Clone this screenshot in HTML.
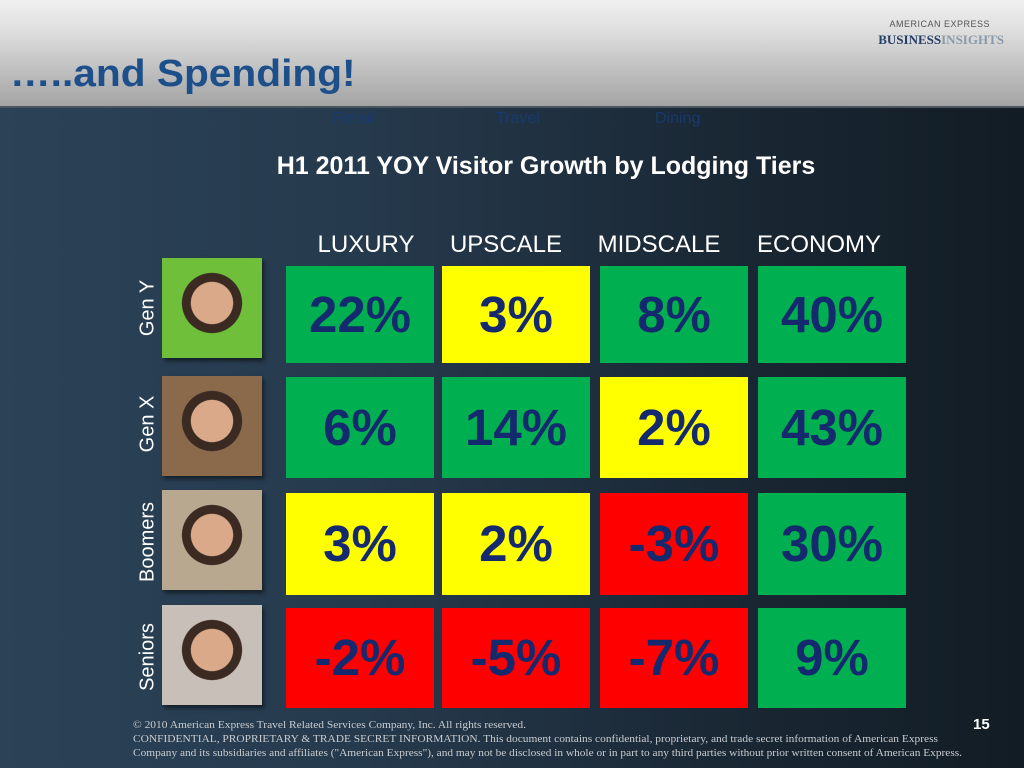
<!DOCTYPE html>
<html><head><meta charset="utf-8"><style>
body{margin:0;width:1024px;height:768px;overflow:hidden;position:relative;font-family:"Liberation Sans",sans-serif;
background:linear-gradient(90deg,#2b4257 0%,#263a4d 35%,#1a2835 70%,#121c24 100%);}
#hdr{position:absolute;left:0;top:0;width:1024px;height:106px;background:linear-gradient(180deg,#f0f0f0 0%,#dedede 30%,#b8b8b8 75%,#a4a4a4 100%);border-bottom:2px solid #4a5560;}
#title{position:absolute;left:10px;top:53px;font-size:38px;font-weight:bold;color:#1d4f8a;transform:scaleX(1.07);transform-origin:left;}
.lg1{position:absolute;right:34px;top:19px;font-size:9px;color:#555;letter-spacing:.5px;}
.lg2{position:absolute;right:20px;top:32px;font-family:"Liberation Serif",serif;font-weight:bold;font-size:13px;color:#24406a;}
.lg2 span{color:#8a9aaa}
.tab{position:absolute;top:110px;font-size:16px;color:#173a6e;}
#ct{position:absolute;left:0;width:1024px;top:152px;text-align:center;font-size:25px;font-weight:bold;color:#fff;padding-left:68px;box-sizing:border-box}
.colh{position:absolute;top:231px;width:170px;text-align:center;font-size:24px;color:#fff;}
.cell{position:absolute;width:148px;text-align:center;font-size:51px;font-weight:bold;color:#14296e;box-sizing:border-box;}
.ph{position:absolute;left:162px;width:100px;height:100px;box-shadow:2px 3px 4px rgba(0,0,0,.5);}
.rl{position:absolute;left:148px;font-size:20px;color:#fff;transform:translate(-50%,-50%) rotate(-90deg);white-space:nowrap;}
#foot{position:absolute;left:0;top:716px;}
#pg{position:absolute;left:973px;top:716px;color:#fff;font-weight:bold;font-size:15px;}
</style></head><body>
<div id="hdr">
<div id="title">…..and Spending!</div>
<div class="lg1">AMERICAN EXPRESS</div>
<div class="lg2">BUSINESS<span>INSIGHTS</span></div>
</div>
<div class="tab" style="left:333px">Retail</div>
<div class="tab" style="left:496px">Travel</div>
<div class="tab" style="left:655px">Dining</div>
<div id="ct">H1 2011 YOY Visitor Growth by Lodging Tiers</div>
<div id="grid"></div>
<svg id="foot" width="1024" height="52">
<text x="133" y="12" font-family="Liberation Serif" font-size="10" fill="#c8ccd0" textLength="393" lengthAdjust="spacingAndGlyphs">© 2010 American Express Travel Related Services Company, Inc.  All rights reserved.</text>
<text x="133" y="26" font-family="Liberation Serif" font-size="10" fill="#c8ccd0" textLength="805" lengthAdjust="spacingAndGlyphs">CONFIDENTIAL, PROPRIETARY &amp; TRADE SECRET INFORMATION. This document contains confidential, proprietary, and trade secret information of American Express</text>
<text x="133" y="40" font-family="Liberation Serif" font-size="10" fill="#c8ccd0" textLength="829" lengthAdjust="spacingAndGlyphs">Company and its subsidiaries and affiliates ("American Express"), and may not be disclosed in whole or in part to any third parties without prior written consent of American Express.</text>
</svg>
<div id="pg">15</div>
<script>
const columns=["LUXURY","UPSCALE","MIDSCALE","ECONOMY"];
const rows=["Gen Y","Gen X","Boomers","Seniors"];
const genY=[22,3,8,40];
const genX=[6,14,2,43];
const boomers=[3,2,-3,30];
const seniors=[-2,-5,-7,9];
const values=[genY,genX,boomers,seniors];
const colX=[286,442,600,758];
const headCX=[366,506,659,819];
const rowY=[266,377,493,608];
const rowH=[97,101,102,100];
const photoY=[258,376,490,605];
const labelCY=[308,424,542,657];
const photoCols=["#6fbf3a","#8a6a4a","#b8a890","#c8c0b8"];
function color(v){return v<0?"#ff0000":(v<=3?"#ffff00":"#00b050");}
const g=document.getElementById('grid');
columns.forEach((c,i)=>{
  const d=document.createElement('div');d.className='colh';
  
  
  d.style.left=(headCX[i]-85)+'px';d.textContent=c;g.appendChild(d);
});
rows.forEach((r,j)=>{
  const l=document.createElement('div');l.className='rl';
  
  
  l.style.top=labelCY[j]+'px';l.textContent=r;g.appendChild(l);
  const p=document.createElement('div');p.className='ph';
  
  
  p.style.top=photoY[j]+'px';
  p.style.background='radial-gradient(circle at 50% 45%,#d9a98a 0 28%,#3a2a22 29% 40%,'+photoCols[j]+' 41%)';
  g.appendChild(p);
  values[j].forEach((v,i)=>{
    const d=document.createElement('div');d.className='cell';
    
    
    d.style.left=colX[i]+'px';d.style.top=rowY[j]+'px';d.style.height=rowH[j]+'px';
    d.style.lineHeight=rowH[j]+'px';d.style.background=color(v);d.textContent=v+'%';
    g.appendChild(d);
  });
});
</script>
</body></html>
